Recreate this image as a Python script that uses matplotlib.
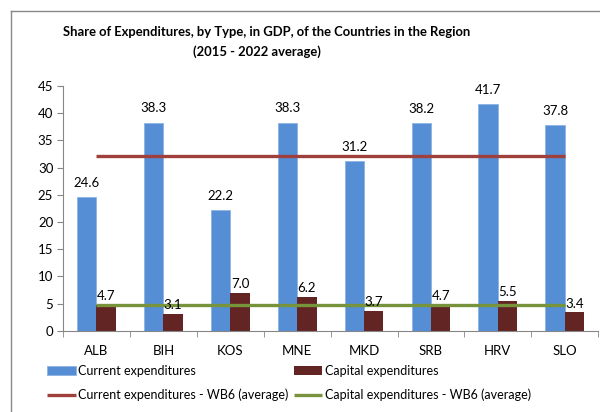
import matplotlib.pyplot as plt
from matplotlib.lines import Line2D
import numpy as np

plt.rcParams["font.family"] = ["Lato", "DejaVu Sans"]

countries = ["ALB", "BIH", "KOS", "MNE", "MKD", "SRB", "HRV", "SLO"]
current = [24.6, 38.3, 22.2, 38.3, 31.2, 38.2, 41.7, 37.8]
capital = [4.7, 3.1, 7.0, 6.2, 3.7, 4.7, 5.5, 3.4]
current_wb6 = [32.1] * 8
capital_wb6 = [4.8] * 8

BLUE = "#558ED5"
DARKRED = "#632523"
RED = "#A0403C"
GREEN = "#77933C"

fig = plt.figure(figsize=(6, 4.12), dpi=100)
ax = fig.add_axes([0.105, 0.197, 0.892, 0.594])

x = np.arange(len(countries))
w = 0.29
b1 = ax.bar(x - w / 2, current, w, color=BLUE, edgecolor="#8DB4E2", linewidth=0.6, zorder=2)
b2 = ax.bar(x + w / 2, capital, w, color=DARKRED, zorder=2)
l1, = ax.plot(x, current_wb6, color=RED, lw=2.4, zorder=3, solid_capstyle="butt")
l2, = ax.plot(x, capital_wb6, color=GREEN, lw=2.4, zorder=3, solid_capstyle="butt")

for xi, v in zip(x, current):
    ax.annotate(f"{v:.1f}", (xi - w / 2, v), xytext=(0, 6), textcoords="offset points",
                ha="center", va="bottom", fontsize=9.5)
for xi, v in zip(x, capital):
    ax.annotate(f"{v:.1f}", (xi + w / 2, v), xytext=(0, 2), textcoords="offset points",
                ha="center", va="bottom", fontsize=9.5, zorder=4)

ax.set_xlim(-0.5, len(countries) - 0.5)
ax.set_ylim(0, 45)
ax.set_yticks(range(0, 46, 5))
ax.set_xticks(x)
ax.set_xticklabels(countries)
ax.set_xticks(np.arange(-0.5, len(countries)), minor=True)
ax.tick_params(axis="x", which="major", length=0, pad=10, labelsize=9.5)
ax.tick_params(axis="x", which="minor", length=4, color="#868686", direction="out")
ax.tick_params(axis="y", length=4, color="#868686", labelsize=9.5, pad=3)
for s in ["top", "right"]:
    ax.spines[s].set_visible(False)
for s in ["left", "bottom"]:
    ax.spines[s].set_color("#868686")

fig.text(0.445, 0.923, "Share of Expenditures, by Type, in GDP, of the Countries in the Region",
         ha="center", va="center", fontsize=9.4, fontweight="bold")
fig.text(0.428, 0.874, "(2015 - 2022 average)", ha="center", va="center",
         fontsize=9.4, fontweight="bold")

leg = fig.legend([b1, l1, b2, l2],
                 ["Current expenditures", "Current expenditures - WB6 (average)",
                  "Capital expenditures", "Capital expenditures - WB6 (average)"],
                 ncol=2, loc="upper left", bbox_to_anchor=(0.07, 0.127),
                 frameon=False, fontsize=9, handlelength=2.3, handletextpad=0.2,
                 columnspacing=0.4, labelspacing=0.95, borderaxespad=0)

# outer chart frame
fig.add_artist(Line2D([0.018, 0.018], [0, 0.973], transform=fig.transFigure, color="#888888", lw=1))
fig.add_artist(Line2D([0.018, 1.0], [0.973, 0.973], transform=fig.transFigure, color="#888888", lw=1))

fig.savefig("out.png", dpi=100)
